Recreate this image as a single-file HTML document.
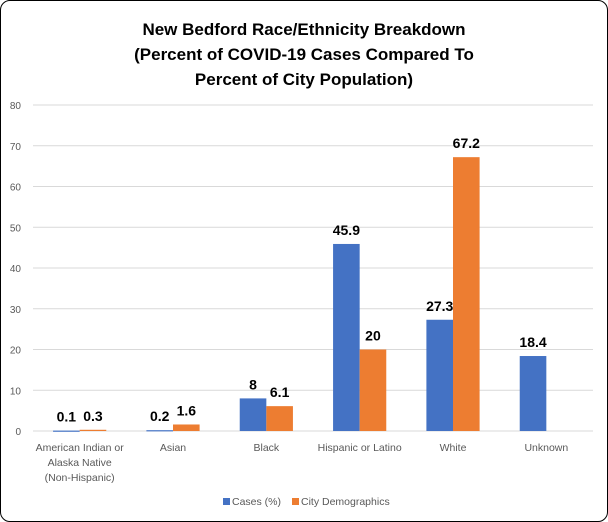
<!DOCTYPE html>
<html><head><meta charset="utf-8"><style>
body{margin:0;background:#fff;}
#c{position:absolute;left:0;top:0;width:606px;height:520px;border:1px solid #000;border-radius:10px;background:#fff;overflow:hidden;}
text{font-family:"Liberation Sans",sans-serif;}
</style></head><body>
<div id="c">
<svg id="s" width="606" height="520" xmlns="http://www.w3.org/2000/svg">
<g font-weight="bold" font-size="17" text-anchor="middle" fill="#000">
<text x="303" y="34">New Bedford Race/Ethnicity  Breakdown</text>
<text x="303" y="59">(Percent of COVID-19 Cases Compared  To</text>
<text x="303" y="84">Percent of City Population)</text>
</g>
</svg>
</div>
<script>
const categories=[["American Indian or","Alaska Native","(Non-Hispanic)"],["Asian"],["Black"],["Hispanic or Latino"],["White"],["Unknown"]];
const cases=[0.1,0.2,8,45.9,27.3,18.4];
const demo=[0.3,1.6,6.1,20,67.2,null];
const ticks=[0,10,20,30,40,50,60,70,80];
const s=document.getElementById('s');
const NS='http://www.w3.org/2000/svg';
const x0=32,x1=592,y0=430,yTop=104,ymax=80;
const y=v=>y0-(v/ymax)*(y0-yTop);
const band=(x1-x0)/categories.length;
function el(t,a,txt){const e=document.createElementNS(NS,t);for(const k in a)e.setAttribute(k,a[k]);if(txt!==undefined)e.textContent=txt;s.appendChild(e);return e;}
ticks.forEach(t=>{
 const g=el('line',{x1:x0,x2:x1,y1:y(t),y2:y(t),stroke:'#d9d9d9','stroke-width':1});
 
 
 const l=el('text',{x:20,y:y(t)+4,'font-size':10,fill:'#595959','text-anchor':'end'},t);
 
 
});
const bw=band*0.285;
function bar(i,v,off,color,name){
 if(v===null)return;
 const cx=x0+band*(i+0.5);
 const xx=off<0?cx-bw:cx;
 const r=el('rect',{x:xx,y:y(v),width:bw,height:Math.max(y0-y(v),1.2),fill:color});
 
 
 const t=el('text',{x:xx+bw/2,y:y(v)-9,'font-size':14,'font-weight':'bold','text-anchor':'middle',fill:'#000'},String(v));
 
 
}
categories.forEach((c,i)=>{
 bar(i,cases[i],-1,'#4472c4','cases');
 bar(i,demo[i],1,'#ed7d31','demographics');
 const cx=x0+band*(i+0.5);
 c.forEach((ln,j)=>{
  const t=el('text',{x:cx,y:450+j*15,'font-size':10.5,fill:'#595959','text-anchor':'middle'},ln);
  
  
 });
});
const lg=[['#4472c4','Cases (%)',222],['#ed7d31','City Demographics',291]];
lg.forEach(([col,lab,x])=>{
 const r=el('rect',{x:x,y:497,width:7,height:7,fill:col});
 
 
 const t=el('text',{x:x+9,y:504,'font-size':10.5,fill:'#595959'},lab);
 
 
});
</script>
</body></html>
